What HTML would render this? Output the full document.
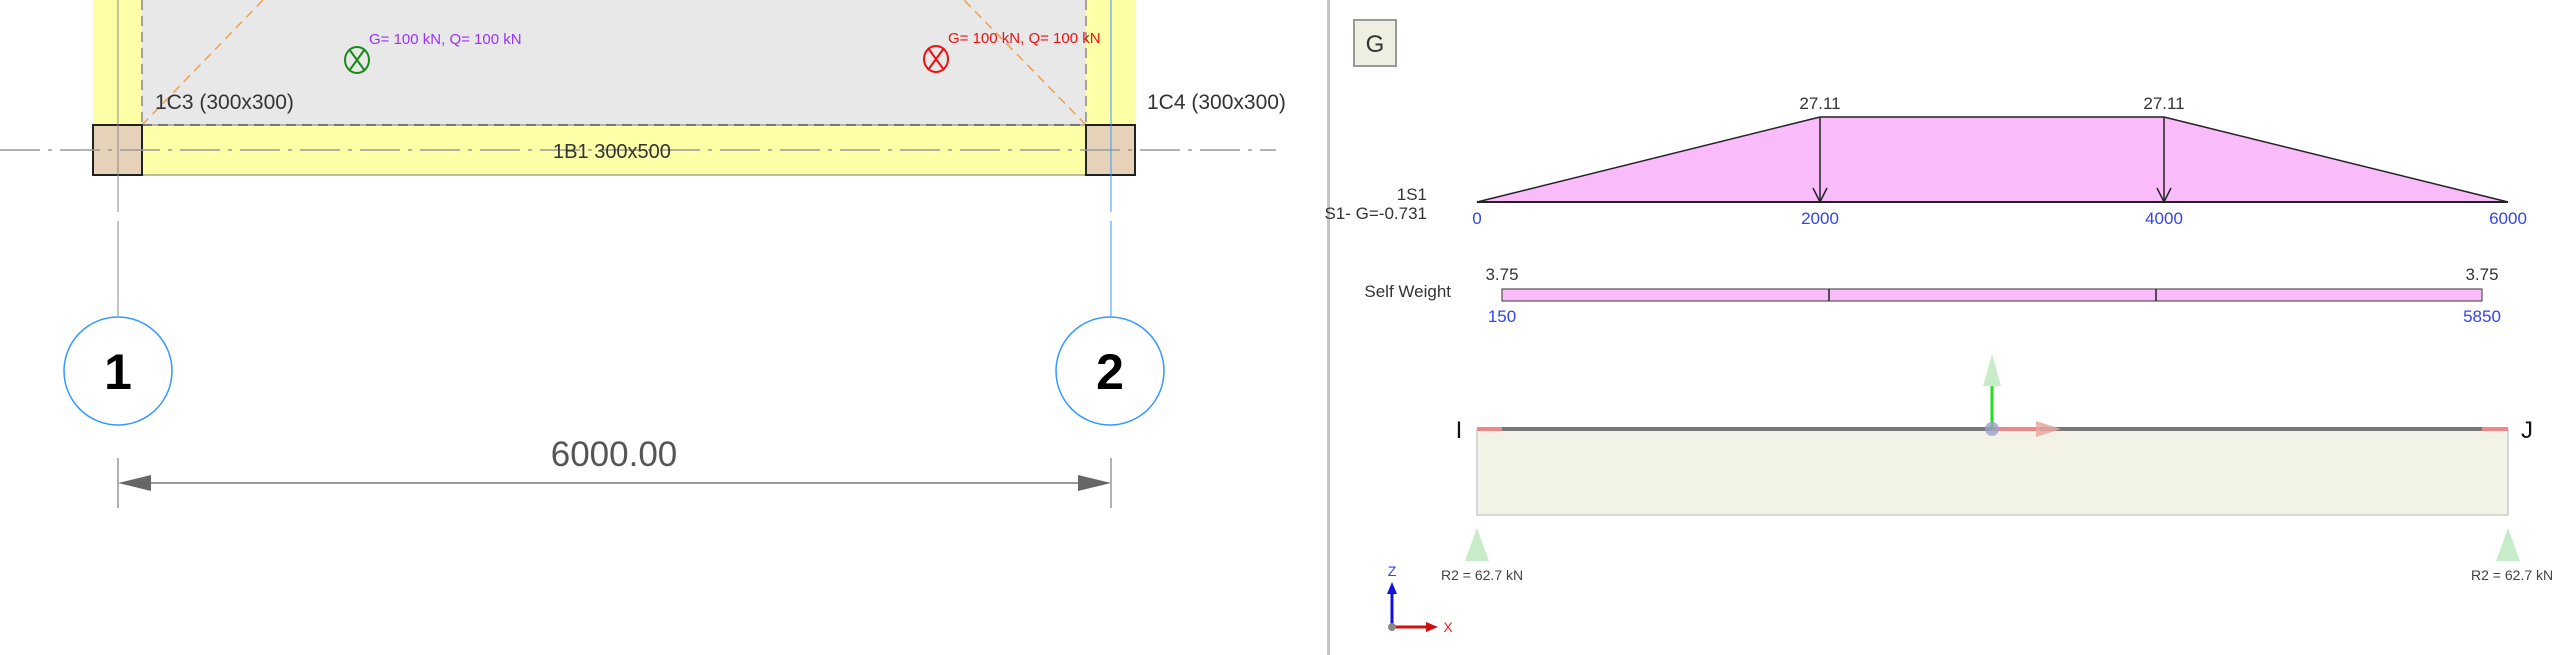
<!DOCTYPE html>
<html><head><meta charset="utf-8"><style>
html,body{margin:0;padding:0;background:#fff;width:2560px;height:655px;overflow:hidden}
svg{display:block}
text{font-family:"Liberation Sans Narrow","Liberation Sans",sans-serif}
text.w{font-family:"Liberation Sans",sans-serif}
</style></head><body>
<svg width="2560" height="655" viewBox="0 0 2560 655" xmlns="http://www.w3.org/2000/svg">
<!-- LEFT PANEL -->
<rect x="142" y="0" width="944" height="125" fill="#e8e8e8"/>
<rect x="93" y="0" width="49" height="125" fill="#ffffa8"/>
<rect x="1086" y="0" width="49" height="125" fill="#ffffa8"/>
<rect x="93" y="125" width="1042" height="50" fill="#ffffa8" stroke="#777" stroke-width="1"/>
<line x1="142" y1="0" x2="142" y2="125" stroke="#888" stroke-width="1.5" stroke-dasharray="10,6"/>
<line x1="1086" y1="0" x2="1086" y2="125" stroke="#888" stroke-width="1.5" stroke-dasharray="10,6"/>
<line x1="142" y1="125" x2="1086" y2="125" stroke="#777" stroke-width="2" stroke-dasharray="10,6"/>
<line x1="142" y1="125" x2="263" y2="0" stroke="#f0a050" stroke-width="1.5" stroke-dasharray="9,6"/>
<line x1="1086" y1="125" x2="964" y2="0" stroke="#f0a050" stroke-width="1.5" stroke-dasharray="9,6"/>
<rect x="93" y="125" width="49" height="50" fill="#e6d2b8" stroke="#222" stroke-width="2"/>
<rect x="1086" y="125" width="49" height="50" fill="#e6d2b8" stroke="#222" stroke-width="2"/>
<line x1="0" y1="150" x2="1276" y2="150" stroke="#999" stroke-width="1.5" stroke-dasharray="40,8,4,8"/>
<line x1="118" y1="0" x2="118" y2="316" stroke="#888" stroke-width="1"/>
<line x1="1111" y1="0" x2="1111" y2="316" stroke="#3399ff" stroke-width="1"/>
<rect x="110" y="212" width="16" height="9" fill="#fff"/>
<rect x="1103" y="212" width="16" height="9" fill="#fff"/>
<text x="369" y="44" font-size="15" fill="#9b30ff">G= 100 kN, Q= 100 kN</text>
<ellipse cx="357" cy="60" rx="12" ry="13" fill="none" stroke="#1a8a1a" stroke-width="2"/>
<line x1="349" y1="49" x2="365" y2="71" stroke="#1a8a1a" stroke-width="2"/><line x1="365" y1="49" x2="349" y2="71" stroke="#1a8a1a" stroke-width="2"/>
<text x="948" y="43" font-size="15" fill="#ee1111">G= 100 kN, Q= 100 kN</text>
<ellipse cx="936" cy="59" rx="12" ry="13" fill="none" stroke="#ee1111" stroke-width="2"/>
<line x1="928" y1="48" x2="944" y2="70" stroke="#ee1111" stroke-width="2"/><line x1="944" y1="48" x2="928" y2="70" stroke="#ee1111" stroke-width="2"/>
<text x="155" y="109" font-size="21" fill="#333">1C3 (300x300)</text>
<text x="1147" y="109" font-size="21" fill="#333">1C4 (300x300)</text>
<text x="612" y="158" font-size="20" fill="#333" text-anchor="middle">1B1 300x500</text>
<circle cx="118" cy="371" r="54" fill="#fff" stroke="#3399ff" stroke-width="1.5"/>
<circle cx="1110" cy="371" r="54" fill="#fff" stroke="#3399ff" stroke-width="1.5"/>
<text class="w" x="118" y="389" font-size="50" font-weight="bold" fill="#000" text-anchor="middle">1</text>
<text class="w" x="1110" y="389" font-size="50" font-weight="bold" fill="#000" text-anchor="middle">2</text>
<line x1="118" y1="458" x2="118" y2="508" stroke="#666" stroke-width="1"/>
<line x1="1111" y1="458" x2="1111" y2="508" stroke="#666" stroke-width="1"/>
<line x1="130" y1="483" x2="1100" y2="483" stroke="#999" stroke-width="2"/>
<polygon points="118,483 151,475 151,491" fill="#666"/>
<polygon points="1111,483 1078,475 1078,491" fill="#666"/>
<text class="w" x="614" y="466" font-size="35" fill="#555" text-anchor="middle">6000.00</text>
<!-- divider -->
<rect x="1327" y="0" width="3" height="655" fill="#c4c4c4"/>
<!-- RIGHT PANEL -->
<rect x="1354" y="20" width="42" height="46" fill="#f0f0e2" stroke="#999" stroke-width="2"/>
<text class="w" x="1375" y="52" font-size="24" fill="#333" text-anchor="middle">G</text>
<polygon points="1477,202 1820,117 2164,117 2508,202" fill="#f9bbf9" stroke="#222" stroke-width="1.5"/>
<line x1="1477" y1="202" x2="2508" y2="202" stroke="#222" stroke-width="2"/>
<line x1="1820" y1="117" x2="1820" y2="202" stroke="#222" stroke-width="1.5"/>
<line x1="2164" y1="117" x2="2164" y2="202" stroke="#222" stroke-width="1.5"/>
<polyline points="1813,188 1820,202 1827,188" fill="none" stroke="#222" stroke-width="1.5"/>
<polyline points="2157,188 2164,202 2171,188" fill="none" stroke="#222" stroke-width="1.5"/>
<text x="1820" y="109" font-size="17" fill="#333" text-anchor="middle">27.11</text>
<text x="2164" y="109" font-size="17" fill="#333" text-anchor="middle">27.11</text>
<text x="1427" y="200" font-size="17" fill="#333" text-anchor="end">1S1</text>
<text x="1427" y="219" font-size="17" fill="#333" text-anchor="end">S1- G=-0.731</text>
<g font-size="17" fill="#3344ee" text-anchor="middle">
<text x="1477" y="224">0</text><text x="1820" y="224">2000</text><text x="2164" y="224">4000</text><text x="2508" y="224">6000</text>
<text x="1502" y="322">150</text><text x="2482" y="322">5850</text>
</g>
<rect x="1502" y="289" width="980" height="12" fill="#f9bbf9" stroke="#555" stroke-width="1.2"/>
<line x1="1829" y1="289" x2="1829" y2="301" stroke="#222" stroke-width="1.5"/>
<line x1="2156" y1="289" x2="2156" y2="301" stroke="#222" stroke-width="1.5"/>
<text x="1502" y="280" font-size="17" fill="#333" text-anchor="middle">3.75</text>
<text x="2482" y="280" font-size="17" fill="#333" text-anchor="middle">3.75</text>
<text x="1451" y="297" font-size="17" fill="#333" text-anchor="end">Self Weight</text>
<rect x="1477" y="429" width="1031" height="86" fill="#f2f2e6" stroke="#ccc" stroke-width="1.5"/>
<line x1="1477" y1="429" x2="2508" y2="429" stroke="#777" stroke-width="4"/>
<line x1="1477" y1="429" x2="1502" y2="429" stroke="#e88" stroke-width="4"/>
<line x1="2482" y1="429" x2="2508" y2="429" stroke="#e88" stroke-width="4"/>
<line x1="1992" y1="429" x2="2040" y2="429" stroke="#e88" stroke-width="4"/>
<polygon points="2036,421 2061,429 2036,437" fill="#e8a8a0" opacity="0.85"/>
<line x1="1992" y1="385" x2="1992" y2="429" stroke="#22dd22" stroke-width="3"/>
<polygon points="1992,354 2001,386 1983,386" fill="#c8ecc8"/>
<circle cx="1992" cy="429" r="7" fill="#9aa0c8" opacity="0.8"/>
<text class="w" x="1459" y="438" font-size="24" fill="#111" text-anchor="middle">I</text>
<text class="w" x="2527" y="438" font-size="24" fill="#111" text-anchor="middle">J</text>
<polygon points="1477,528 1489,561 1465,561" fill="#c8ecc8"/>
<polygon points="2508,528 2520,561 2496,561" fill="#c8ecc8"/>
<text x="1441" y="580" font-size="14" fill="#444">R2 = 62.7 kN</text>
<text x="2471" y="580" font-size="14" fill="#444">R2 = 62.7 kN</text>
<line x1="1392" y1="627" x2="1392" y2="592" stroke="#1111dd" stroke-width="3"/>
<polygon points="1392,582 1397,594 1387,594" fill="#1111dd"/>
<line x1="1392" y1="627" x2="1428" y2="627" stroke="#cc1111" stroke-width="3"/>
<polygon points="1438,627 1426,622 1426,632" fill="#cc1111"/>
<circle cx="1392" cy="627" r="4" fill="#888"/>
<text x="1392" y="576" font-size="14" fill="#3344ee" text-anchor="middle">Z</text>
<text x="1448" y="632" font-size="14" fill="#ee2222" text-anchor="middle">X</text>
</svg>
</body></html>
